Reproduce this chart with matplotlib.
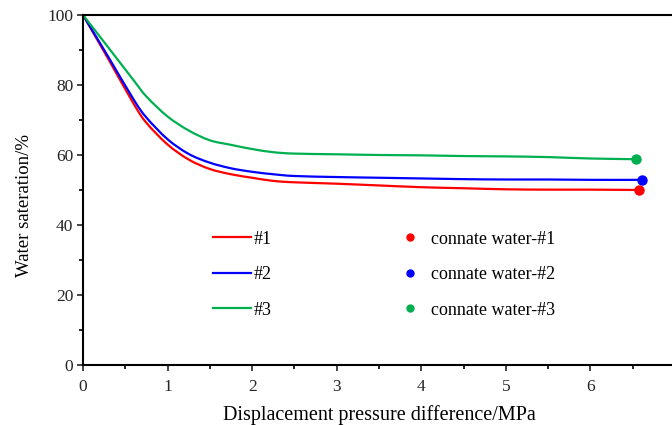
import numpy as np
import matplotlib
matplotlib.use('Agg')
import matplotlib.pyplot as plt
from matplotlib.lines import Line2D
from matplotlib.path import Path
from matplotlib.patches import PathPatch

plt.rcParams['font.family'] = ['Liberation Serif', 'DejaVu Serif']

# curves
x1 = [0, 0.3, 0.6, 0.75, 1.0, 1.25, 1.5, 1.75, 2.0, 2.25, 2.5, 3.0, 3.5, 4.0, 4.5, 5.0, 5.5, 6.0, 6.58]
y1 = [100, 87.4, 74.6, 69.2, 63.0, 58.7, 56.0, 54.5, 53.5, 52.6, 52.2, 51.8, 51.3, 50.8, 50.5, 50.2, 50.1, 50.1, 50.0]

x2 = [0, 0.3, 0.6, 0.75, 1.0, 1.25, 1.5, 1.75, 2.0, 2.25, 2.5, 3.0, 3.5, 4.0, 4.5, 5.0, 5.5, 6.0, 6.61]
y2 = [100, 88.0, 75.8, 70.7, 64.5, 60.3, 57.8, 56.2, 55.2, 54.5, 54.0, 53.7, 53.5, 53.3, 53.1, 53.0, 53.0, 52.9, 52.9]

x3 = [0, 0.3, 0.6, 0.75, 1.0, 1.25, 1.5, 1.75, 2.0, 2.25, 2.5, 3.0, 3.5, 4.0, 4.5, 5.0, 5.5, 6.0, 6.54]
y3 = [100, 90.7, 81.3, 76.7, 71.0, 67.0, 64.2, 62.9, 61.7, 60.8, 60.4, 60.2, 60.0, 59.9, 59.7, 59.6, 59.4, 59.0, 58.8]

# connate water end points
cw_x = [6.58, 6.61, 6.54]
cw_y = [50.0, 52.9, 58.8]

labels = ['#1', '#2', '#3']
cw_labels = ['connate water-#1', 'connate water-#2', 'connate water-#3']
colors = ['#FF0000', '#0000FF', '#00B050']


def smooth_path(xs, ys):
    # Excel-style smoothed line: Catmull-Rom segments as cubic Beziers
    p = np.column_stack([xs, ys]).astype(float)
    verts = [p[0]]
    codes = [Path.MOVETO]
    for i in range(len(p) - 1):
        p0 = p[i - 1] if i > 0 else p[i]
        p3 = p[i + 2] if i + 2 < len(p) else p[i + 1]
        c1 = p[i] + (p[i + 1] - p0) / 6
        c2 = p[i + 1] - (p3 - p[i]) / 6
        verts += [c1, c2, p[i + 1]]
        codes += [Path.CURVE4] * 3
    return Path(verts, codes)


fig = plt.figure(figsize=(6.72, 4.25), dpi=100)
ax = fig.add_axes([83 / 672, 60 / 425, 592 / 672, 350 / 425])

for xs, ys, c in zip([x1, x2, x3], [y1, y2, y3], colors):
    ax.add_patch(PathPatch(smooth_path(xs, ys), facecolor='none', edgecolor=c, lw=1.6))
for xc, yc, c in zip(cw_x, cw_y, colors):
    ax.plot(xc, yc, 'o', color=c, ms=6.5, zorder=3)

ax.set_xlim(0, 7)
ax.set_ylim(0, 100)
ax.set_xticks(range(0, 8))
ax.set_xticks(np.arange(0.5, 7, 1), minor=True)
ax.set_yticks(range(0, 101, 20))
ax.set_yticks(range(10, 100, 20), minor=True)
ax.tick_params(which='major', length=4, width=1.2, labelsize=12.5, colors='#262626')
ax.tick_params(which='minor', length=3, width=1.2)
ax.tick_params(axis='x', pad=6)
ax.tick_params(axis='y', pad=3)
for s in ['left', 'bottom', 'top', 'right']:
    ax.spines[s].set_linewidth(1.5)
    ax.spines[s].set_color('black')

ax.set_xlabel('Displacement pressure difference/MPa', fontsize=14.5, labelpad=7)
ax.set_ylabel('Water sateration/%', fontsize=13.5)
ax.yaxis.set_label_coords(-0.0845, 0.457)

handles = [Line2D([], [], color=c, lw=1.6) for c in colors]
handles += [Line2D([], [], color=c, marker='o', ls='none', ms=5) for c in colors]
ax.legend(handles, labels + cw_labels, ncol=2, frameon=False, fontsize=13,
          loc='upper left', bbox_to_anchor=(0.2045, 0.41), borderpad=0,
          handlelength=2.1, handletextpad=0.14, labelspacing=1.03, columnspacing=6.6)

fig.savefig('out.png', dpi=100)
